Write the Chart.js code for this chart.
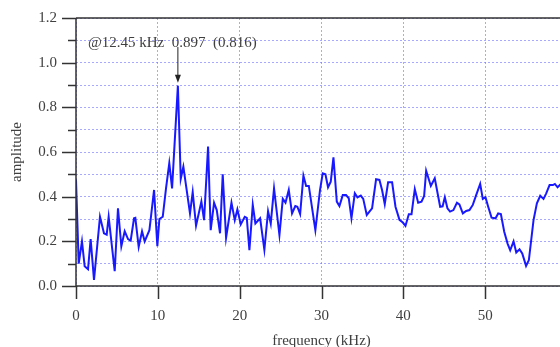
<!DOCTYPE html>
<html>
<head>
<meta charset="utf-8">
<script src="https://cdn.jsdelivr.net/npm/chart.js@4/dist/chart.umd.min.js"></script>
<style>
  html, body { margin: 0; padding: 0; background: #fff; overflow: hidden; }
  #wrap { width: 580px; height: 347px; }
</style>
</head>
<body>
<div id="wrap"><canvas id="c" width="580" height="347"></canvas></div>
<script>
// ---- data ----
const freqKHz = [
  0.00, 0.33, 0.73, 1.06, 1.47, 1.79, 2.20, 2.93, 3.42, 3.75, 3.99, 4.73, 5.13, 5.54, 5.95, 6.36, 6.68, 7.09, 7.25, 7.66,
  8.07, 8.39, 8.97, 9.54, 9.94, 10.19, 10.60, 11.00, 11.40, 11.74, 12.45, 12.80, 13.12, 13.37, 13.93, 14.26, 14.67, 15.32, 15.65, 16.14,
  16.46, 16.87, 17.20, 17.60, 17.93, 18.34, 19.00, 19.40, 19.72, 20.13, 20.62, 20.87, 21.19, 21.60, 21.92, 22.50, 23.02, 23.47, 23.80, 24.20,
  24.86, 25.27, 25.60, 26.00, 26.40, 26.80, 27.05, 27.39, 27.79, 28.12, 28.45, 29.25, 29.82, 30.15, 30.48, 30.80, 31.13, 31.46, 31.87, 32.19,
  32.60, 33.00, 33.33, 33.66, 34.07, 34.39, 34.80, 35.10, 35.53, 36.18, 36.67, 37.08, 37.40, 37.73, 38.14, 38.63, 39.04, 39.53, 39.94, 40.26,
  40.67, 41.00, 41.40, 41.81, 42.22, 42.54, 42.79, 43.36, 43.84, 44.50, 44.80, 45.07, 45.39, 45.71, 46.12, 46.55, 46.85, 47.27, 47.68, 48.08,
  48.49, 48.90, 49.39, 49.71, 50.04, 50.37, 50.78, 51.27, 51.59, 51.92, 52.33, 52.74, 53.06, 53.47, 53.80, 54.20, 54.53, 55.00, 55.34, 55.91,
  56.32, 56.73, 57.13, 57.46, 57.87, 58.28, 58.52, 58.85, 59.18, 59.60
];
const amplitude = [
  0.477, 0.100, 0.200, 0.088, 0.075, 0.210, 0.027, 0.310, 0.236, 0.230, 0.310, 0.066, 0.348, 0.178, 0.245, 0.210, 0.203, 0.303, 0.305, 0.175,
  0.245, 0.200, 0.250, 0.430, 0.178, 0.300, 0.310, 0.437, 0.550, 0.437, 0.897, 0.480, 0.534, 0.470, 0.325, 0.420, 0.270, 0.378, 0.295, 0.624,
  0.250, 0.373, 0.340, 0.236, 0.500, 0.216, 0.373, 0.295, 0.343, 0.276, 0.310, 0.305, 0.160, 0.363, 0.280, 0.303, 0.162, 0.335, 0.280, 0.437,
  0.228, 0.390, 0.373, 0.430, 0.325, 0.358, 0.355, 0.322, 0.494, 0.448, 0.448, 0.250, 0.430, 0.504, 0.500, 0.442, 0.467, 0.576, 0.378, 0.358,
  0.407, 0.407, 0.393, 0.303, 0.415, 0.397, 0.405, 0.390, 0.318, 0.348, 0.478, 0.475, 0.430, 0.367, 0.464, 0.464, 0.355, 0.296, 0.284, 0.269,
  0.321, 0.321, 0.434, 0.373, 0.378, 0.403, 0.516, 0.448, 0.482, 0.355, 0.357, 0.397, 0.348, 0.333, 0.340, 0.373, 0.365, 0.325, 0.336, 0.340,
  0.363, 0.407, 0.457, 0.390, 0.397, 0.355, 0.306, 0.303, 0.325, 0.322, 0.243, 0.190, 0.160, 0.200, 0.150, 0.164, 0.146, 0.090, 0.116, 0.295,
  0.370, 0.404, 0.390, 0.415, 0.452, 0.452, 0.457, 0.442, 0.454, 0.450
];
const xTickValues = [0, 10, 20, 30, 40, 50];
const yTickLabels = ['0.0', '0.2', '0.4', '0.6', '0.8', '1.0', '1.2'];
const peakFreq = 12.45;
const peakAmp = 0.897;
const peakText = '@12.45 kHz  0.897  (0.816)';
const xTitle = 'frequency (kHz)';
const yTitle = 'amplitude';

// ---- chart ----
const FONT = "'Liberation Serif', 'Times New Roman', serif";
const TEXT = '#404040';
const AXIS = '#333333';
const GRID = 'rgba(110,110,255,0.6)';

const points = freqKHz.map((f, i) => ({ x: f, y: amplitude[i] }));

const decorPlugin = {
  id: 'decor',
  afterDraw(chart) {
    const { ctx, chartArea: a, scales: { x, y } } = chart;
    ctx.save();
    ctx.setLineDash([]);
    ctx.strokeStyle = AXIS;
    ctx.lineWidth = 1.5;
    // axis frame: left, bottom, top
    ctx.beginPath();
    ctx.moveTo(a.left, a.bottom);
    ctx.lineTo(a.left, a.top);
    ctx.moveTo(a.left, a.bottom);
    ctx.lineTo(a.right, a.bottom);
    ctx.moveTo(a.left, a.top);
    ctx.lineTo(a.right, a.top);
    ctx.stroke();
    // y tick marks (major every 0.2, minor every 0.1)
    for (let i = 0; i <= 12; i++) {
      const py = Math.round(y.getPixelForValue(i / 10)) + 0.5;
      const len = i % 2 === 0 ? 14 : 8;
      ctx.beginPath();
      ctx.moveTo(a.left - len, py);
      ctx.lineTo(a.left, py);
      ctx.stroke();
    }
    // x tick marks
    xTickValues.forEach(v => {
      const px = Math.round(x.getPixelForValue(v)) + 0.5;
      ctx.beginPath();
      ctx.moveTo(px, a.bottom);
      ctx.lineTo(px, a.bottom + 13);
      ctx.stroke();
    });
    // peak annotation
    const axp = x.getPixelForValue(peakFreq);
    const tipY = y.getPixelForValue(peakAmp) - 3;
    const topY = y.getPixelForValue(1.07);
    ctx.strokeStyle = '#222';
    ctx.fillStyle = '#222';
    ctx.lineWidth = 1;
    ctx.beginPath();
    ctx.moveTo(axp, topY);
    ctx.lineTo(axp, tipY - 5);
    ctx.stroke();
    ctx.beginPath();
    ctx.moveTo(axp, tipY);
    ctx.lineTo(axp - 3, tipY - 8);
    ctx.lineTo(axp + 3, tipY - 8);
    ctx.closePath();
    ctx.fill();
    ctx.font = '15px ' + FONT;
    ctx.fillStyle = TEXT;
    ctx.textAlign = 'left';
    ctx.textBaseline = 'middle';
    ctx.fillText(peakText, axp - 90, y.getPixelForValue(1.088));
    ctx.restore();
  }
};

new Chart(document.getElementById('c'), {
  type: 'scatter',
  data: {
    datasets: [{
      data: points,
      showLine: true,
      borderColor: 'rgb(25,25,255)',
      borderWidth: 2,
      pointRadius: 0,
      tension: 0,
      fill: false
    }]
  },
  options: {
    responsive: false,
    animation: false,
    devicePixelRatio: 1,
    layout: { padding: { top: 18, right: 13, left: 0, bottom: 0 } },
    plugins: { legend: { display: false }, tooltip: { enabled: false } },
    scales: {
      x: {
        type: 'linear',
        min: 0, max: 60,
        afterFit(s) { s.height = 61; s.paddingLeft = 0; s.paddingRight = 0; },
        afterBuildTicks(s) { s.ticks = [0, 10, 20, 30, 40, 50, 60].map(v => ({ value: v })); },
        ticks: {
          color: TEXT,
          font: { family: FONT, size: 15 },
          padding: 21,
          maxRotation: 0,
          autoSkip: false,
          callback: v => (xTickValues.includes(v) ? String(v) : '')
        },
        grid: { color: GRID, lineWidth: 1, drawTicks: false },
        border: { display: false, dash: [2, 2] },
        title: {
          display: true, text: xTitle, color: TEXT,
          font: { family: FONT, size: 15, lineHeight: 0.8 },
          padding: { top: 0, bottom: 0 }
        }
      },
      y: {
        type: 'linear',
        min: 0, max: 1.2,
        afterFit(s) { s.width = 76; s.paddingTop = 0; s.paddingBottom = 0; },
        afterBuildTicks(s) {
          const t = [];
          for (let i = 0; i <= 12; i++) t.push({ value: i / 10 });
          s.ticks = t;
        },
        ticks: {
          color: TEXT,
          font: { family: FONT, size: 15 },
          padding: 19,
          autoSkip: false,
          callback: (v) => {
            const k = Math.round(v * 10);
            return k % 2 === 0 ? yTickLabels[k / 2] : '';
          }
        },
        grid: { color: GRID, lineWidth: 1, drawTicks: false },
        border: { display: false, dash: [2, 2] },
        title: {
          display: true, text: yTitle, color: TEXT,
          font: { family: FONT, size: 15, lineHeight: 1 },
          padding: { top: 10, bottom: 0 }
        }
      }
    }
  },
  plugins: [decorPlugin]
});
</script>
</body>
</html>
